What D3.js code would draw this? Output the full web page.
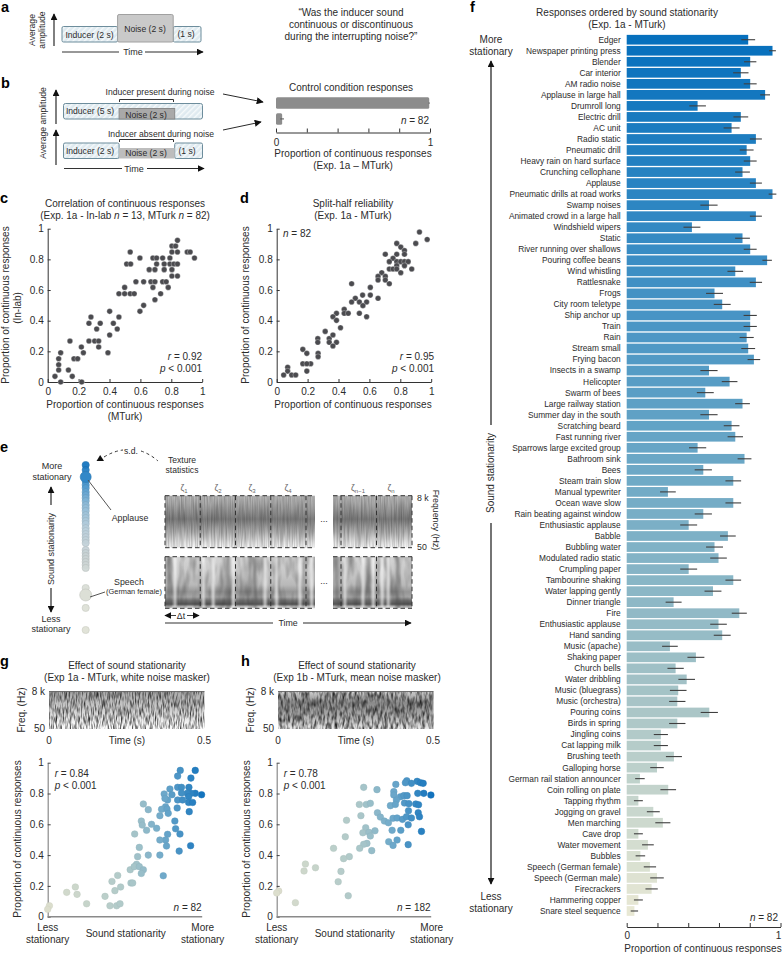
<!DOCTYPE html>
<html><head><meta charset="utf-8">
<script src="https://cdn.jsdelivr.net/npm/d3@7/dist/d3.min.js"></script>
<style>html,body{margin:0;background:#fff}svg{display:block}text{font-family:"Liberation Sans",Arial,sans-serif;fill:#2b2b2b}</style>
</head><body><svg id="c" width="782" height="955"></svg>
<script>
// ---------- DATA ----------
const barLabels=["Edger","Newspaper printing press","Blender","Car interior","AM radio noise","Applause in large hall","Drumroll long","Electric drill","AC unit","Radio static","Pneumatic drill","Heavy rain on hard surface","Crunching cellophane","Applause","Pneumatic drills at road works","Swamp noises","Animated crowd in a large hall","Windshield wipers","Static","River running over shallows","Pouring coffee beans","Wind whistling","Rattlesnake","Frogs","City room teletype","Ship anchor up","Train","Rain","Stream small","Frying bacon","Insects in a swamp","Helicopter","Swarm of bees","Large railway station","Summer day in the south","Scratching beard","Fast running river","Sparrows large excited group","Bathroom sink","Bees","Steam train slow","Manual typewriter","Ocean wave slow","Rain beating against window","Enthusiastic applause","Babble","Bubbling water","Modulated radio static","Crumpling paper","Tambourine shaking","Water lapping gently","Dinner triangle","Fire","Enthusiastic applause","Hand sanding","Music (apache)","Shaking paper","Church bells","Water dribbling","Music (bluegrass)","Music (orchestra)","Pouring coins","Birds in spring","Jingling coins","Cat lapping milk","Brushing teeth","Galloping horse","German rail station announcer","Coin rolling on plate","Tapping rhythm","Jogging on gravel","Men marching","Cave drop","Water movement","Bubbles","Speech (German female)","Speech (German male)","Firecrackers","Hammering copper","Snare steel sequence"];
const barValues=[.79,.948,.803,.742,.803,.9,.461,.742,.682,.84,.78,.803,.753,.84,.948,.535,.84,.424,.753,.803,.913,.706,.84,.571,.621,.803,.803,.78,.79,.827,.535,.669,.511,.753,.535,.682,.706,.461,.766,.498,.693,.268,.693,.498,.403,.658,.571,.597,.403,.693,.561,.305,.732,.597,.621,.281,.45,.318,.39,.335,.329,.537,.329,.222,.222,.307,.197,.086,.27,.076,.173,.235,.076,.138,.089,.151,.197,.162,.076,.05];
const barErrors=[.045,.022,.04,.05,.042,.032,.054,.048,.052,.039,.045,.042,.048,.039,.025,.056,.039,.055,.048,.042,.031,.051,.04,.055,.055,.043,.043,.046,.045,.041,.056,.051,.055,.048,.056,.051,.05,.056,.045,.056,.051,.051,.051,.056,.055,.051,.055,.054,.055,.051,.055,.052,.049,.054,.055,.051,.055,.053,.054,.054,.053,.056,.053,.046,.046,.052,.044,.031,.051,.029,.042,.049,.029,.038,.031,.04,.044,.04,.029,.024];
const controlValues=[.995,.04];
const controlErrors=[.004,.012];
const tickValues01=[0,.2,.4,.6,.8,1];
const corrPoints=[[.84,.924],[.804,.887],[.828,.887],[.804,.848],[.84,.848],[.903,.848],[.922,.848],[.534,.848],[.95,.809],[.597,.809],[.681,.809],[.705,.809],[.744,.809],[.791,.809],[.511,.77],[.537,.77],[.705,.77],[.754,.77],[.791,.77],[.817,.77],[.84,.77],[.657,.733],[.694,.733],[.754,.733],[.804,.733],[.804,.691],[.84,.691],[.571,.654],[.621,.654],[.668,.654],[.694,.654],[.744,.654],[.767,.654],[.681,.617],[.78,.617],[.498,.617],[.461,.576],[.498,.576],[.534,.576],[.56,.576],[.731,.576],[.694,.537],[.621,.5],[.597,.461],[.401,.461],[.461,.424],[.28,.424],[.34,.383],[.425,.383],[.267,.383],[.317,.346],[.45,.346],[.401,.307],[.267,.267],[.304,.267],[.33,.267],[.144,.267],[.33,.228],[.218,.228],[.231,.191],[.084,.191],[.39,.191],[.071,.152],[.17,.152],[.194,.152],[.071,.113],[.071,.078],[.134,.078],[.047,.037],[.084,0],[.159,.037],[.22,0]];
const splitPoints=[[.924,.978],[.9,.904],[.974,.93],[.777,.904],[.803,.88],[.827,.857],[.703,.833],[.777,.833],[.827,.833],[.753,.807],[.729,.785],[.777,.785],[.803,.785],[.827,.785],[.851,.785],[.777,.759],[.827,.759],[.729,.737],[.753,.737],[.777,.737],[.874,.737],[.803,.713],[.68,.713],[.656,.689],[.703,.689],[.656,.665],[.703,.665],[.729,.641],[.485,.641],[.606,.617],[.556,.567],[.606,.567],[.509,.546],[.656,.546],[.485,.522],[.535,.522],[.582,.522],[.558,.498],[.437,.474],[.437,.448],[.463,.448],[.387,.448],[.535,.448],[.582,.426],[.364,.426],[.387,.402],[.413,.354],[.314,.33],[.34,.283],[.364,.307],[.266,.283],[.266,.259],[.34,.259],[.387,.259],[.364,.235],[.169,.213],[.195,.187],[.268,.187],[.268,.165],[.169,.119],[.22,.119],[.195,.119],[.071,.096],[.195,.071],[.071,.071],[.045,.046],[.097,.046],[.123,.046]];
const whiteMaskPoints=[[.858,.95],[.955,.95],[.841,.913],[.927,.9],[.841,.84],[.866,.84],[.914,.84],[.791,.829],[.754,.797],[.804,.792],[.776,.758],[.759,.768],[.996,.792],[.955,.801],[.927,.801],[.903,.801],[.866,.803],[.912,.779],[.841,.758],[.873,.758],[.912,.742],[.938,.742],[.916,.682],[.838,.706],[.763,.714],[.737,.697],[.772,.699],[.78,.671],[.726,.656],[.823,.621],[.828,.571],[.856,.537],[.776,.535],[.763,.498],[.726,.498],[.769,.459],[.851,.426],[.925,.461],[.726,.4],[.651,.4],[.593,.45],[.582,.39],[.619,.732],[.651,.695],[.606,.621],[.612,.595],[.64,.561],[.672,.6],[.705,.574],[.563,.537],[.748,.266],[.534,.305],[.575,.34],[.56,.325],[.593,.325],[.619,.305],[.606,.281],[.539,.219],[.55,.219],[.453,.268],[.416,.229],[.435,.169],[.472,.193],[.371,.132],[.403,.071],[.446,.071],[.468,.084],[.179,.193],[.123,.158],[.19,.145],[.252,.084],[.011,.071],[0,.048]];
const meanMaskPoints=[[.842,.883],[.909,.879],[.771,.859],[.833,.87],[.872,.866],[.931,.87],[.948,.866],[.563,.84],[.649,.825],[.998,.79],[.952,.801],[.913,.801],[.758,.812],[.758,.79],[.801,.779],[.823,.786],[.844,.786],[.775,.758],[.535,.729],[.58,.729],[.606,.736],[.736,.721],[.768,.729],[.827,.738],[.855,.734],[.9,.732],[.918,.727],[.853,.688],[.916,.675],[.652,.675],[.545,.656],[.671,.647],[.697,.621],[.723,.61],[.753,.639],[.779,.641],[.814,.632],[.84,.649],[.872,.641],[.924,.649],[.851,.597],[.452,.626],[.576,.578],[.444,.519],[.558,.545],[.597,.548],[.636,.558],[.606,.524],[.747,.561],[.803,.561],[.937,.554],[.725,.487],[.779,.498],[.753,.463],[.851,.468],[.584,.476],[.563,.47],[.537,.444],[.615,.429],[.368,.444],[.47,.39],[.433,.377],[.186,.342],[.177,.297],[.251,.318],[.416,.294],[.398,.227],[.463,.136],[.013,.167],[0,.154],[.121,.091]];
const orderedStationarity=[1,.97,.904,.88,.861,.837,.819,.801,.783,.759,.741,.723,.699,.681,.663,.645,.62,.602,.584,.566,.548,.53,.488,.47,.452,.434,.416,.398,.38,.259,.139,.006];
const highlightedStationarity=[.928,.217];
const durationsA=[2,2,1];
const speechGaps=[.067,.256,.322,.456,.667,.744,.9,.978];
const speechGapsRight=[.15,.38,.51,.62,.7];
const speechDark=[.03,.42,.6];
const speechDarkRight=[.05,.45,.82];
const stationarityColours=["#dcdecd","#c2d2ca","#a9c6c9","#6ea9ca","#1273be"];
const barColours=["#0670bd","#3a8dc4","#6ea9c6","#a5c3c6","#e8e8d4"];
const spineColours=["#dfe1d5","#dbdfd6","#c8d2d4","#bcd0dc","#90bcd8","#4a97ce","#0f72be"];

// ---------- HELPERS ----------
const svg=d3.select("#c");
const defs=svg.append("defs");
const FS=10;
function T(x,y,s,a="middle",size=FS,extra={}){
  const t=svg.append("text").attr("x",x).attr("y",y).attr("text-anchor",a).attr("font-size",size).text(s);
  for(const k in extra)t.attr(k,extra[k]);return t;
}
function V(x,y,s,size=FS,rot=-90){
  return svg.append("text").attr("transform",`translate(${x},${y}) rotate(${rot})`).attr("text-anchor","middle").attr("font-size",size).text(s);
}
function It(x,y,v,rest,a="end",size=FS){
  const t=svg.append("text").attr("x",x).attr("y",y).attr("text-anchor",a).attr("font-size",size);
  t.append("tspan").attr("font-style","italic").text(v);
  t.append("tspan").text(rest);return t;
}
defs.append("marker").attr("id","ah").attr("viewBox","0 0 10 10").attr("refX",9).attr("refY",5)
  .attr("markerWidth",7).attr("markerHeight",7).attr("markerUnits","userSpaceOnUse").attr("orient","auto-start-reverse")
  .append("path").attr("d","M0,0L10,5L0,10Z").attr("fill","#111");
function Ar(x1,y1,x2,y2,w=1.2){
  return svg.append("line").attr("x1",x1).attr("y1",y1).attr("x2",x2).attr("y2",y2).attr("stroke","#2a2a2a").attr("stroke-width",w).attr("marker-end","url(#ah)");
}
function L(x1,y1,x2,y2,c="#333",w=1){return svg.append("line").attr("x1",x1).attr("y1",y1).attr("x2",x2).attr("y2",y2).attr("stroke",c).attr("stroke-width",w);}
function letter(s,x,y){T(x,y,s,"start",14.5,{"font-weight":"bold"}).style("fill","#000");}

const hatch=defs.append("pattern").attr("id","hatch").attr("patternUnits","userSpaceOnUse").attr("width",4).attr("height",4).attr("patternTransform","rotate(-45)");
hatch.append("rect").attr("width",4).attr("height",4).attr("fill","#dfeaf0");
hatch.append("rect").attr("width",4).attr("height",1.4).attr("fill","#f6fafb");

function grad(id,stops){
  const g=defs.append("linearGradient").attr("id",id).attr("x1",0).attr("y1",0).attr("x2",0).attr("y2",1);
  stops.forEach(s=>g.append("stop").attr("offset",s[0]).attr("stop-color",s[1]));
}
function noise(id,bf,gain,off,seed){
  const f=defs.append("filter").attr("id",id).attr("x",0).attr("y",0).attr("width",1).attr("height",1).attr("color-interpolation-filters","sRGB");
  f.append("feTurbulence").attr("type","fractalNoise").attr("baseFrequency",bf).attr("numOctaves",2).attr("seed",seed).attr("result","n");
  f.append("feColorMatrix").attr("in","n").attr("type","matrix").attr("values",`0 0 0 0 0.15 0 0 0 0 0.15 0 0 0 0 0.15 ${gain} 0 0 0 ${off}`).attr("result","a");
  f.append("feComposite").attr("in","a").attr("in2","SourceGraphic").attr("operator","atop");
}
grad("gTex",[[0,"#bcbcbc"],[.15,"#aaaaaa"],[.45,"#7c7c7c"],[.7,"#b0b0b0"],[.9,"#e4e4e4"],[1,"#f8f8f8"]]);
grad("gSp",[[0,"#d4d4d4"],[.35,"#c6c6c6"],[.55,"#b8b8b8"],[.68,"#969696"],[.78,"#a4a4a4"],[.85,"#727272"],[.92,"#545454"],[.97,"#c4c4c4"],[1,"#ececec"]]);
grad("gG",[[0,"#a8a8a8"],[.5,"#d0d0d0"],[.85,"#f6f6f6"],[1,"#fbfbfb"]]);
grad("gH",[[0,"#d0d0d0"],[.3,"#8a8a8a"],[.6,"#a6a6a6"],[.85,"#cfcfcf"],[1,"#ececec"]]);
noise("nTex","0.7 0.04",.6,-.2,3);
noise("nSp","0.15 0.04",.8,-.3,7);
noise("nG","0.85 0.12",2,-.75,11);
noise("nH","0.4 0.13",2,-.7,5);
defs.append("filter").attr("id","soft").attr("x","-50%").attr("width","200%").append("feGaussianBlur").attr("stdDeviation",1.1);

function axes(g,x,y,opt={}){
  const yA=d3.axisLeft(y).tickValues(tickValues01).tickFormat(d=>String(d)).tickSize(-3).tickSizeOuter(0).tickPadding(4);
  const ya=g.append("g").attr("transform",`translate(${x.range()[0]},0)`).call(yA);
  ya.selectAll("text").attr("font-size",FS);
  const c=opt.colour||"#333";
  ya.selectAll("path,line").attr("stroke",c);
  if(opt.noXAxis){
    g.append("line").attr("x1",x.range()[0]).attr("x2",x.range()[1]).attr("y1",y.range()[0]).attr("y2",y.range()[0]).attr("stroke","#8a8a8a").attr("stroke-width",1.6);
    ya.selectAll("path").attr("stroke","#8a8a8a").attr("stroke-width",1.2);
  }else{
    const xA=d3.axisBottom(x).tickValues(tickValues01).tickFormat(d=>String(d)).tickSize(-3).tickSizeOuter(0).tickPadding(6);
    const xa=g.append("g").attr("transform",`translate(0,${y.range()[0]})`).call(xA);
    xa.selectAll("text").attr("font-size",FS);xa.selectAll("path,line").attr("stroke",c);
  }
  g.selectAll(".domain").attr("fill","none");
}

// ---------- PANEL a ----------
letter("a",1,12);
V(35,30,"Average",8.6);V(45,30,"amplitude",8.6);
Ar(54,46,54,14,1.2);
const xA=d3.scaleLinear().domain([0,d3.sum(durationsA)]).range([62,201]);
const rectS="#6d8d9c";
svg.append("rect").attr("x",xA(0)).attr("y",26.5).attr("width",xA(2)-xA(0)).attr("height",15.5).attr("rx",1.5).attr("fill","url(#hatch)").attr("stroke",rectS);
svg.append("rect").attr("x",xA(4)).attr("y",26.5).attr("width",xA(5)-xA(4)).attr("height",15.5).attr("rx",1.5).attr("fill","url(#hatch)").attr("stroke",rectS);
svg.append("rect").attr("x",xA(2)).attr("y",14.5).attr("width",xA(4)-xA(2)).attr("height",27.5).attr("rx",1.5).attr("fill","#c9c9c9").attr("stroke","#a0a0a0");
T(89.5,37.5,"Inducer (2 s)","middle",8.6);T(145,31.5,"Noise (2 s)","middle",8.6);T(186,36.5,"(1 s)","middle",8.6);
L(62,52,119,52,"#333",1.2);T(133,55,"Time","middle",9);Ar(145,52,203,52);
["\u201cWas the inducer sound","continuous or discontinuous","during the interrupting noise?\u201d"].forEach((s,i)=>T(351,16+i*12.2,s));

// ---------- PANEL b ----------
letter("b",1,88);
V(46,123,"Average amplitude",8.6);
Ar(56,124,56,90);Ar(56,165,56,130);
const xB=d3.scaleLinear().domain([0,5]).range([63.5,202.5]);
svg.append("rect").attr("x",xB(0)).attr("y",103.5).attr("width",xB(5)-xB(0)).attr("height",15.5).attr("rx",2).attr("fill","url(#hatch)").attr("stroke",rectS);
svg.append("rect").attr("x",xB(2)).attr("y",108.5).attr("width",xB(4)-xB(2)).attr("height",10.5).attr("fill","#a9a9a9").attr("stroke","#8a8a8a");
svg.append("rect").attr("x",xB(0)).attr("y",143).attr("width",xB(2)-xB(0)).attr("height",15.5).attr("rx",1.5).attr("fill","url(#hatch)").attr("stroke",rectS);
svg.append("rect").attr("x",xB(4)).attr("y",143).attr("width",xB(5)-xB(4)).attr("height",15.5).attr("rx",1.5).attr("fill","url(#hatch)").attr("stroke",rectS);
svg.append("rect").attr("x",xB(2)).attr("y",148).attr("width",xB(4)-xB(2)).attr("height",10.5).attr("fill","#bdbdbd");
T(90,114,"Inducer (5 s)","middle",8.6);T(146,117.5,"Noise (2 s)","middle",8.6);T(90,154,"Inducer (2 s)","middle",8.6);T(146,156,"Noise (2 s)","middle",8.6);T(187,154,"(1 s)","middle",8.6);
T(160,95,"Inducer present during noise","middle",8.6);T(161,136.5,"Inducer absent during noise","middle",8.6);
svg.append("path").attr("d","M119.5,102V99.5H173.5V102").attr("fill","none").attr("stroke","#333");
svg.append("path").attr("d","M119.5,142V139.5H173.5V142").attr("fill","none").attr("stroke","#333");
L(64,168.5,122,168.5,"#333",1.2);T(134,172,"Time","middle",9);Ar(147,168.5,204,168.5);
Ar(223,94,263,102,1);Ar(223,130,261,122,1);
T(351,90.5,"Control condition responses");
const xCtl=d3.scaleLinear().domain([0,1]).range([276,430]);
const yCtl=d3.scaleBand().domain(d3.range(controlValues.length)).range([96.5,125.5]).paddingInner(.27).paddingOuter(.05);
controlValues.forEach((v,i)=>{
  svg.append("rect").attr("x",xCtl(0)).attr("y",yCtl(i)).attr("width",xCtl(v)-xCtl(0)).attr("height",yCtl.bandwidth()).attr("rx",1.5).attr("fill","#8c8c8c");
  L(xCtl(v-controlErrors[i]),yCtl(i)+yCtl.bandwidth()/2,xCtl(v+controlErrors[i]),yCtl(i)+yCtl.bandwidth()/2,"#555");
});
const ctlAx=svg.append("g").attr("transform","translate(0,132.5)").call(d3.axisBottom(xCtl).tickValues(tickValues01).tickFormat(d=>(d===0||d===1)?d:"").tickSize(-4).tickSizeOuter(0).tickPadding(6));
ctlAx.selectAll("text").attr("font-size",FS);ctlAx.selectAll("path,line").attr("stroke","#333").attr("fill","none");
It(429,124,"n"," = 82");
T(353,157,"Proportion of continuous responses");T(353,169,"(Exp. 1a \u2013 MTurk)");

// ---------- PANELS c, d ----------
function scatterDark(x0,pts){
  const x=d3.scaleLinear().domain([0,1]).range([x0,x0+154.5]);
  const y=d3.scaleLinear().domain([0,1]).range([382,228.7]);
  const g=svg.append("g");axes(g,x,y);
  g.selectAll("circle").data(pts).join("circle").attr("cx",d=>x(d[0])).attr("cy",d=>y(d[1])).attr("r",2.8).attr("fill","#4b4b4f").attr("stroke","#fff").attr("stroke-width",.3);
}
letter("c",0,203);
T(125,207,"Correlation of continuous responses");
{const t=T(125,219,"(Exp. 1a - In-lab ");t.append("tspan").attr("font-style","italic").text("n");t.append("tspan").text(" = 13, MTurk ");t.append("tspan").attr("font-style","italic").text("n");t.append("tspan").text(" = 82)");}
scatterDark(47.7,corrPoints);
V(9,305,"Proportion of continuous responses");V(21,308,"(In-lab)");
T(125,408,"Proportion of continuous responses");T(125,420,"(MTurk)");
It(202,360,"r"," = 0.92");{const t=T(202,372,"","end");t.append("tspan").attr("font-style","italic").text("p");t.append("tspan").text(" < 0.001");}
letter("d",240,203);
T(353,207,"Split-half reliability");T(353,219,"(Exp. 1a - MTurk)");
scatterDark(276.7,splitPoints);
V(249,305,"Proportion of continuous responses");
T(353,408,"Proportion of continuous responses");
It(283,237,"n"," = 82","start");
It(434,360,"r"," = 0.95");{const t=T(434,372,"","end");t.append("tspan").attr("font-style","italic").text("p");t.append("tspan").text(" < 0.001");}

// ---------- PANEL e ----------
letter("e",0,452);
T(52,469,"More","middle",9);T(52,479.5,"stationary","middle",9);
Ar(51,505,51,487);V(54,549,"Sound stationarity",9);Ar(51,588,51,612);
T(51,622,"Less","middle",9);T(51,632,"stationary","middle",9);
svg.append("path").attr("d","M104,457Q114,451 123,450").attr("fill","none").attr("stroke","#333").attr("stroke-dasharray","3 3");
svg.append("path").attr("d","M96.5,461L100.2,455L104,461Z").attr("fill","#111");
T(131,454,"s.d.","middle",8.6);
svg.append("path").attr("d","M141,451Q150,454 158,461").attr("fill","none").attr("stroke","#333").attr("stroke-dasharray","3 3");
T(182,463,"Texture","middle",8.6);T(182,473,"statistics","middle",8.6);
const ySp=d3.scaleLinear().domain([0,1]).range([631,465]);
const cSpine=d3.scaleLinear().domain([0,.25,.45,.6,.75,.88,1]).range(spineColours);
const ringC=d=>d3.color(cSpine(d)).darker(.35);
svg.append("g").selectAll("circle").data(orderedStationarity).join("circle").attr("cx",85.7).attr("cy",d=>ySp(d)).attr("r",3.6).attr("fill",d=>cSpine(d)).attr("stroke",ringC).attr("stroke-width",.6).attr("opacity",.92);
svg.append("g").selectAll("circle").data(highlightedStationarity).join("circle").attr("cx",85.7).attr("cy",d=>ySp(d)).attr("r",(d,i)=>i?6:5.5).attr("fill",d=>cSpine(d)).attr("stroke",ringC).attr("stroke-width",.6);
L(88,480,111,510,"#555");L(90,597,105,592,"#555");
T(130,521,"Applause","middle",8.8);T(129,585,"Speech","middle",8.8);T(134,594,"(German female)","middle",7.4);
const win=d3.scaleLinear().domain([0,1]).range([165,200.25]);
const winR=d3.scaleLinear().domain([0,1]).range([341,376.5]);
const leftW=[165,315],rightW=[333,412];
function strip(y0,h,gid,fid,gaps,gapsR,dark,darkR){
  [leftW,rightW].forEach((w,k)=>{
    svg.append("rect").attr("x",w[0]).attr("y",y0).attr("width",w[1]-w[0]).attr("height",h).attr("fill",`url(#${gid})`).attr("filter",`url(#${fid})`);
    const gp=k?gapsR:gaps,dk=k?darkR:dark;
    if(gp){
      const sc=d3.scaleLinear().domain([0,1]).range(w);
      const clip="cl"+k;defs.append("clipPath").attr("id",clip).append("rect").attr("x",w[0]).attr("y",y0).attr("width",w[1]-w[0]).attr("height",h);
      const g=svg.append("g").attr("clip-path",`url(#${clip})`);
      g.selectAll(".d").data(dk).join("rect").attr("class","d").attr("x",d=>sc(d)-2).attr("y",y0).attr("width",4).attr("height",h).attr("fill","#555").attr("opacity",.4).attr("filter","url(#soft)");
      g.selectAll(".g").data(gp).join("rect").attr("class","g").attr("x",d=>sc(d)-1.4).attr("y",y0).attr("width",2.8).attr("height",h).attr("fill","#fff").attr("opacity",.7).attr("filter","url(#soft)");
    }
  });
  const fr={fill:"none",stroke:"#333","stroke-width":1,"stroke-dasharray":"4.5 3"};
  const line=(a,b,c,d)=>{const l=L(a,b,c,d);for(const k in fr)l.attr(k,fr[k]);};
  line(leftW[0],y0,leftW[1],y0);line(leftW[0],y0+h,leftW[1],y0+h);
  line(rightW[0],y0,rightW[1],y0);line(rightW[0],y0+h,rightW[1],y0+h);
  d3.range(0,5).forEach(i=>line(win(i),y0,win(i),y0+h));
  d3.range(0,3).forEach(i=>line(winR(i),y0,winR(i),y0+h));
}
strip(495.7,52,"gTex","nTex");
strip(556.7,51.6,"gSp","nSp",speechGaps,speechGapsRight,speechDark,speechDarkRight);
[["1",184],["2",218],["3",252],["4",288],["n\u22121",358],["n",391]].forEach(([s,x])=>{
  const t=T(x,491,"\u03b6","middle",8.6).style("fill","#666");
  t.append("tspan").attr("font-size",6).attr("dy",2).text(s);
});
T(417,501,"8 k","start",8.8);T(417,550,"50","start",8.8);
V(433,520,"Frequency (Hz)",8.8,90);
T(324,522,"...","middle",9);T(324,584,"...","middle",9);
Ar(176,615.5,165,615.5,.9);Ar(187,615.5,199,615.5,.9);T(181,618.5,"\u0394t","middle",8.8);
L(165,623,273,623,"#333",1.1);T(288,626,"Time","middle",8.8);Ar(303,623,411,623,1.1);

// ---------- PANELS g, h ----------
const cStat=d3.scaleLinear().domain([0,.3,.55,.75,1]).range(stationarityColours);
function panelStat(x0,pts,r,n){
  const x=d3.scaleLinear().domain([0,1]).range([x0,x0+154.5]);
  const y=d3.scaleLinear().domain([0,1]).range([916.7,762.7]);
  const g=svg.append("g");axes(g,x,y,{noXAxis:true,colour:"#444"});
  g.selectAll("circle").data(pts).join("circle").attr("cx",d=>x(d[0])).attr("cy",d=>y(d[1])).attr("r",3.3).attr("fill",d=>cStat(d[0])).attr("stroke",d=>d3.color(cStat(d[0])).darker(.15)).attr("stroke-width",.5);
  It(x0+7,776.5,"r"," = "+r,"start");
  {const t=T(x0+7,788.5,"","start");t.append("tspan").attr("font-style","italic").text("p");t.append("tspan").text(" < 0.001");}
  It(x0+154,910.5,"n"," = "+n);
  T(x0,931,"Less");T(x0,943,"stationary");T(x0+78,937,"Sound stationarity");T(x0+155,931,"More");T(x0+155,943,"stationary");
  V(x0-27,839,"Proportion of continuous responses");
}
function spectro(x0,gid,fid,yl){
  svg.append("rect").attr("x",x0).attr("y",691.5).attr("width",155.5).attr("height",37.5).attr("fill",`url(#${gid})`).attr("filter",`url(#${fid})`);
  L(x0,691.5,x0+155.5,691.5,"#555",.8);
  T(x0-4,695,"8 k","end");T(x0-4,732,"50","end");V(yl,710,"Freq. (Hz)");
  T(x0,744,"0");T(x0+155,744,"0.5");T(x0+78,744,"Time (s)");
}
letter("g",0,666);
T(127,669,"Effect of sound stationarity");T(127,681,"(Exp 1a - MTurk, white noise masker)");
spectro(49,"gG","nG",24.5);
panelStat(47.7,whiteMaskPoints,"0.84",82);
letter("h",241,666);
T(357,669,"Effect of sound stationarity");T(357,681,"(Exp 1b - MTurk, mean noise masker)");
spectro(278,"gH","nH",254);
panelStat(276.7,meanMaskPoints,"0.78",182);

// ---------- PANEL f ----------
letter("f",470,12);
T(627,16,"Responses ordered by sound stationarity");T(627,28,"(Exp. 1a - MTurk)");
T(491,43,"More");T(491,55,"stationary");
Ar(491,425,491,61,1.3);V(494,473,"Sound stationarity");Ar(491,523,491,884,1.3);
T(491,900,"Less");T(491,912,"stationary");
const xF=d3.scaleLinear().domain([0,1]).range([626.7,780.5]);
const yF=d3.scaleBand().domain(d3.range(barLabels.length)).range([34.2,916.5]).paddingInner(.12).paddingOuter(.06);
const cBar=d3.scaleLinear().domain([0,.25,.5,.75,1]).range(barColours);
const gF=svg.append("g");
gF.selectAll("rect").data(barValues).join("rect").attr("x",xF(0)).attr("y",(d,i)=>yF(i)).attr("width",d=>xF(d)-xF(0)).attr("height",yF.bandwidth()).attr("fill",(d,i)=>cBar(i/(barValues.length-1)));
gF.selectAll("line").data(barValues).join("line").attr("x1",(d,i)=>xF(d-barErrors[i])).attr("x2",(d,i)=>xF(d+barErrors[i])).attr("y1",(d,i)=>yF(i)+yF.bandwidth()/2).attr("y2",(d,i)=>yF(i)+yF.bandwidth()/2).attr("stroke","#3f3f3f").attr("stroke-width",1.1);
gF.selectAll("text").data(barLabels).join("text").attr("x",620.7).attr("y",(d,i)=>yF(i)+yF.bandwidth()/2+2.9).attr("text-anchor","end").attr("font-size",8.35).text(d=>d);
const fAx=svg.append("g").attr("transform","translate(0,927)").call(d3.axisBottom(xF).tickValues(tickValues01).tickFormat(d=>(d===0||d===1)?d:"").tickSize(-4).tickSizeOuter(0).tickPadding(5));
fAx.selectAll("text").attr("font-size",FS).attr("dx",d=>d===1?-2.5:0);fAx.selectAll("path,line").attr("stroke","#333").attr("fill","none");
It(778,921,"n"," = 82");
T(703,952,"Proportion of continuous responses");
</script></body></html>
